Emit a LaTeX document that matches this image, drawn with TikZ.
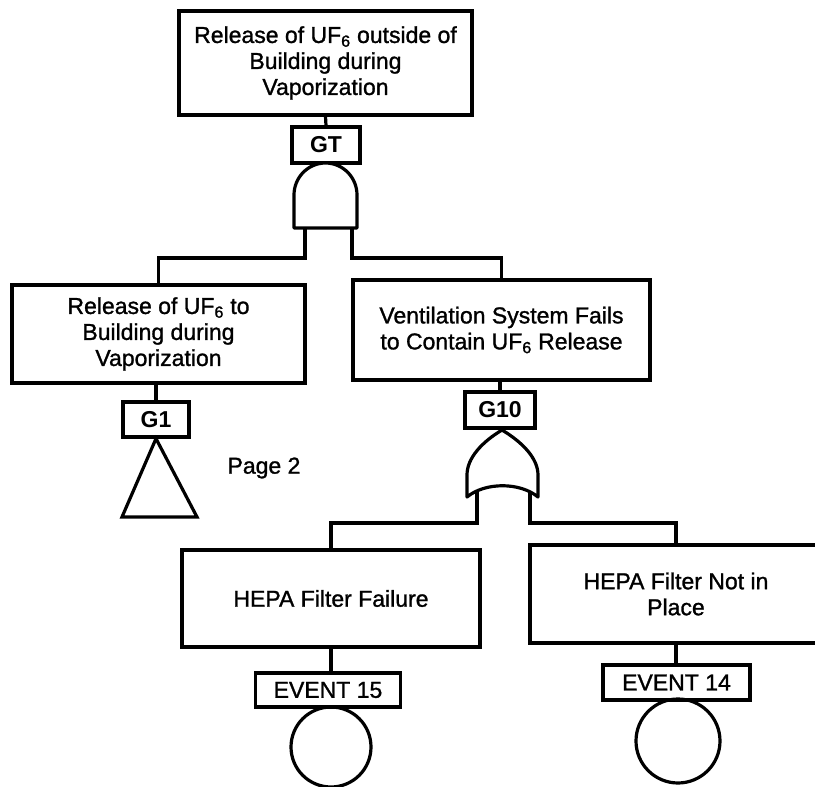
\documentclass[tikz,border=0pt]{standalone}
\usepackage{fontspec}
\setmainfont{Liberation Sans}
\newfontfamily\scanfont{Liberation Sans}[FakeBold=1.2]
\begin{document}
\begin{tikzpicture}[x=1pt,y=-1pt,
  lw/.style={line width=3.2pt},
  evbox/.style={draw, lw, align=center, inner sep=0pt,
    font=\scanfont\fontsize{23}{26}\selectfont},
  gatelabel/.style={draw, lw, inner sep=0pt,
    font=\bfseries\fontsize{23}{26}\selectfont},
  evlabel/.style={draw, lw, inner sep=0pt,
    font=\scanfont\fontsize{23}{26}\selectfont},
  basic/.style={circle, draw, lw, inner sep=0pt},
  gateshape/.style={draw, lw, fill=white, line join=round}
]
\useasboundingbox (0,0) rectangle (815,787);

% event boxes
\node[evbox, minimum width=293pt, minimum height=104pt] (top) at (325.5,63)
  {Release of UF\textsubscript{6} outside of\\Building during\\Vaporization};
\node[evbox, minimum width=293pt, minimum height=98pt] (lbox) at (158.5,334)
  {Release of UF\textsubscript{6} to\\Building during\\Vaporization};
\node[evbox, minimum width=297pt, minimum height=100pt] (rbox) at (501.5,330)
  {Ventilation System Fails\\to Contain UF\textsubscript{6} Release};
\node[evbox, minimum width=298pt, minimum height=97pt] (bl) at (331,598.5)
  {HEPA Filter Failure};
\node[evbox, minimum width=292pt, minimum height=98pt] (br) at (676,594)
  {HEPA Filter Not in\\Place};

% gate labels
\node[gatelabel, minimum width=68pt, minimum height=36pt] (gt) at (326,145) {GT};
\node[gatelabel, minimum width=66pt, minimum height=35pt] (g1) at (156,419.5) {G1};
\node[gatelabel, minimum width=70pt, minimum height=36pt] (g10) at (500,410) {G10};
\node[evlabel, minimum width=145pt, minimum height=34pt] (e15) at (328,690) {EVENT 15};
\node[evlabel, minimum width=147pt, minimum height=35pt] (e14) at (676.5,682.5) {EVENT 14};

% basic events
\node[basic, minimum size=80pt] (c15) at (331,747) {};
\node[basic, minimum size=84pt] (c14) at (678,741) {};

% page reference
\node[font=\scanfont\fontsize{23}{26}\selectfont] (pg) at (264,468) {Page 2};

% AND gate
\draw[gateshape] (294,228) -- (294,195)
  arc[start angle=180, end angle=360, x radius=31.5, y radius=32]
  -- (357,228) -- cycle;
\coordinate (andL) at (305,228);
\coordinate (andR) at (352,228);

% OR gate
\draw[gateshape] (502,430) .. controls (482,442) and (467,458) .. (467,475)
  -- (467,497) .. controls (485,482) and (520,482) .. (538,497)
  -- (538,475) .. controls (538,458) and (522,442) .. (502,430) -- cycle;
\coordinate (orL) at (477,490);
\coordinate (orR) at (530,491);

% transfer triangle
\draw[lw, line join=miter] (g1.south) -- (122,517) -- (197,517) -- cycle;

% connectors
\draw[lw] (top.south) -- (gt.north);
\draw[lw] (andL) -- (305,258) -| (lbox.north);
\draw[lw] (andR) -- (352,258) -| (rbox.north);
\draw[lw] (g1.north |- lbox.south) -- (g1.north);
\draw[lw] (g10.north |- rbox.south) -- (g10.north);
\draw[lw] (orL) -- (477,523) -| (bl.north);
\draw[lw] (orR) -- (530,523) -| (br.north);
\draw[lw] (bl.south) -- (bl.south |- e15.north);
\draw[lw] (br.south) -- (br.south |- e14.north);
\end{tikzpicture}
\end{document}
